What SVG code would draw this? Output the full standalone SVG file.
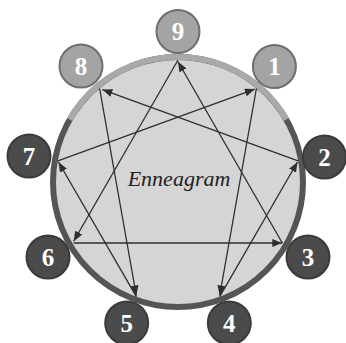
<svg xmlns="http://www.w3.org/2000/svg" width="346" height="343" viewBox="0 0 346 343">
<style>
.light circle{fill:#a4a4a4;stroke:#6e6e6e;stroke-width:2}
.dark circle{fill:#4b4b4b;stroke:#3a3a3a;stroke-width:2}
.num{font-family:"Liberation Serif",serif;font-weight:bold;font-size:25px;fill:#ffffff;text-anchor:middle}
.ln{stroke:#2e2e2e;stroke-width:1.3;fill:none;marker-end:url(#ah)}
</style>
<defs>
<marker id="ah" viewBox="0 0 10 8" refX="10" refY="4" markerWidth="10" markerHeight="8" markerUnits="userSpaceOnUse" orient="auto">
<path d="M0,0 L10,4 L0,8 Z" fill="#2e2e2e"/>
</marker>
</defs>
<rect width="346" height="343" fill="#ffffff"/>
<g id="ring">
<circle cx="178" cy="182" r="125" fill="#d5d5d5" stroke="#555555" stroke-width="6"/>
<path d="M69.7,119.5 A125,125 0 0 1 286.3,119.5" fill="none" stroke="#a9a9a9" stroke-width="6"/>
</g>
<g id="connectors">
<line class="ln" x1="178" y1="60" x2="73.7" y2="241.3"/>
<line class="ln" x1="73.7" y1="243" x2="282.3" y2="243"/>
<line class="ln" x1="282.3" y1="243" x2="178" y2="61.7"/>
<line class="ln" x1="256.4" y1="88.5" x2="219.7" y2="295.5"/>
<line class="ln" x1="219.7" y1="296.6" x2="297.5" y2="162"/>
<line class="ln" x1="298.1" y1="160.8" x2="102.4" y2="89.6"/>
<line class="ln" x1="99.6" y1="88.5" x2="136.3" y2="295.5"/>
<line class="ln" x1="136.3" y1="296.6" x2="58.5" y2="162"/>
<line class="ln" x1="57.9" y1="160.8" x2="254.8" y2="89.1"/>
</g>
<g id="label">
<text x="179" y="186" font-family="'Liberation Serif',serif" font-style="italic" font-size="22" fill="#222222" text-anchor="middle">Enneagram</text>
</g>
<g id="n9" class="light"><circle cx="178" cy="31.5" r="21.5"/><text class="num" x="178" y="40">9</text></g>
<g id="n1" class="light"><circle cx="274.4" cy="66.5" r="21.5"/><text class="num" x="274.4" y="75">1</text></g>
<g id="n8" class="light"><circle cx="81" cy="66" r="21.5"/><text class="num" x="81" y="74.5">8</text></g>
<g id="n2" class="dark"><circle cx="324.5" cy="157" r="21.5"/><text class="num" x="324.5" y="165.5">2</text></g>
<g id="n7" class="dark"><circle cx="29" cy="156" r="21.5"/><text class="num" x="29" y="164.5">7</text></g>
<g id="n3" class="dark"><circle cx="308" cy="257" r="21.5"/><text class="num" x="308" y="265.5">3</text></g>
<g id="n6" class="dark"><circle cx="48" cy="257" r="21.5"/><text class="num" x="48" y="265.5">6</text></g>
<g id="n4" class="dark"><circle cx="229.3" cy="323" r="21.5"/><text class="num" x="229.3" y="331.5">4</text></g>
<g id="n5" class="dark"><circle cx="126.7" cy="323" r="21.5"/><text class="num" x="126.7" y="331.5">5</text></g>
</svg>
